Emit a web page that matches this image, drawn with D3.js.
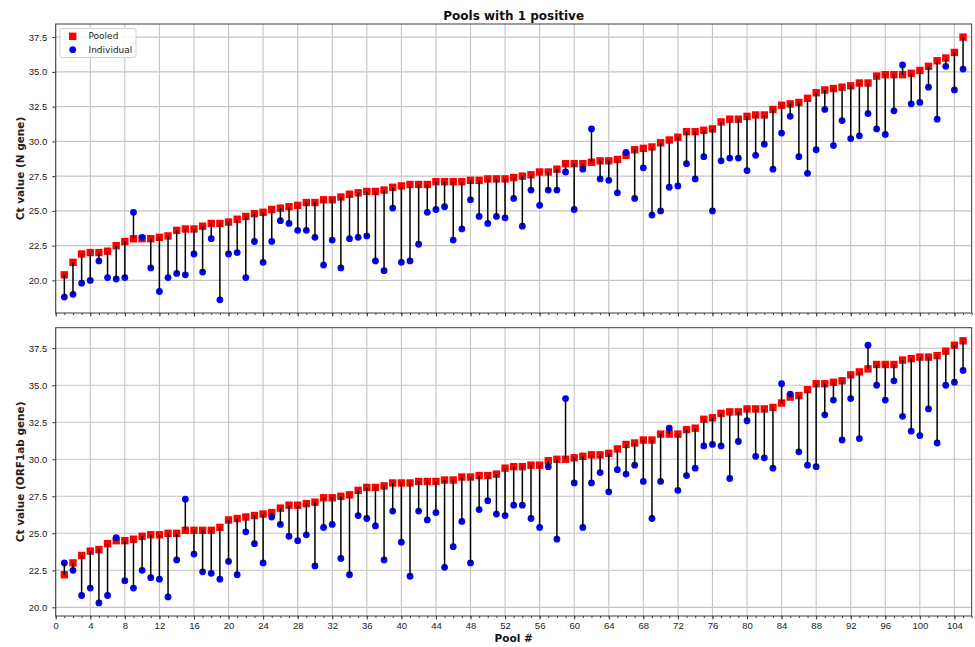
<!DOCTYPE html>
<html>
<head>
<meta charset="utf-8">
<script src="https://cdn.jsdelivr.net/npm/d3@7"></script>
<style>
  body { margin: 0; background: #fff; }
  svg { display: block; font-family: "DejaVu Sans", sans-serif; }
</style>
</head>
<body>
<svg id="chart" width="975" height="647"></svg>
<script>
// Pool numbers (x categories)
const pools = [
  1, 2, 3, 4, 5, 6, 7, 8, 9, 10, 11, 12, 13, 14, 15, 16, 17, 18, 19, 20, 21,
  22, 23, 24, 25, 26, 27, 28, 29, 30, 31, 32, 33, 34, 35, 36, 37, 38, 39, 40, 41, 42,
  43, 44, 45, 46, 47, 48, 49, 50, 51, 52, 53, 54, 55, 56, 57, 58, 59, 60, 61, 62, 63,
  64, 65, 66, 67, 68, 69, 70, 71, 72, 73, 74, 75, 76, 77, 78, 79, 80, 81, 82, 83, 84,
  85, 86, 87, 88, 89, 90, 91, 92, 93, 94, 95, 96, 97, 98, 99, 100, 101, 102, 103, 104, 105
];

// N gene: Ct of the pooled sample and of the positive individual sample
const nPooled = [
  20.4, 21.3, 21.9, 22.0, 22.0, 22.1, 22.5, 22.8, 23.0, 23.0, 23.0, 23.1, 23.2, 23.6, 23.7, 23.7, 23.9, 24.1, 24.1, 24.2, 24.4,
  24.6, 24.8, 24.9, 25.1, 25.2, 25.3, 25.4, 25.6, 25.6, 25.8, 25.8, 26.0, 26.2, 26.3, 26.4, 26.4, 26.5, 26.7, 26.8, 26.9, 26.9,
  26.9, 27.1, 27.1, 27.1, 27.1, 27.2, 27.2, 27.3, 27.3, 27.3, 27.4, 27.5, 27.6, 27.8, 27.8, 28.0, 28.4, 28.4, 28.4, 28.5, 28.6,
  28.6, 28.7, 29.0, 29.4, 29.5, 29.6, 29.9, 30.1, 30.3, 30.7, 30.7, 30.8, 30.9, 31.4, 31.6, 31.6, 31.8, 31.9, 31.9, 32.3, 32.6,
  32.7, 32.8, 33.1, 33.5, 33.7, 33.8, 33.9, 34.0, 34.2, 34.2, 34.7, 34.8, 34.8, 34.8, 34.9, 35.1, 35.4, 35.8, 36.0, 36.4, 37.5
];
const nIndividual = [
  18.8, 19.0, 19.8, 20.0, 21.4, 20.2, 20.1, 20.2, 24.9, 23.1, 20.9, 19.2, 20.2, 20.5, 20.4, 21.9, 20.6, 23.0, 18.6, 21.9, 22.0,
  20.2, 22.8, 21.3, 22.8, 24.3, 24.1, 23.6, 23.6, 23.1, 21.1, 22.9, 20.9, 23.0, 23.1, 23.2, 21.4, 20.7, 25.2, 21.3, 21.4, 22.6,
  24.9, 25.1, 25.3, 22.9, 23.7, 25.8, 24.6, 24.1, 24.6, 24.5, 25.9, 23.9, 26.5, 25.4, 26.5, 26.5, 27.8, 25.1, 28.0, 30.9, 27.3,
  27.2, 26.3, 29.2, 25.9, 28.1, 24.7, 25.0, 26.7, 26.8, 28.4, 27.3, 28.9, 25.0, 28.6, 28.8, 28.8, 27.9, 29.0, 29.8, 28.0, 30.6,
  31.8, 28.9, 27.7, 29.4, 32.3, 29.7, 31.5, 30.2, 30.4, 32.0, 30.9, 30.5, 32.2, 35.5, 32.7, 32.8, 33.9, 31.6, 35.4, 33.7, 35.2
];

// ORF1ab gene: Ct of the pooled sample and of the positive individual sample
const orfPooled = [
  22.2, 23.0, 23.5, 23.8, 23.9, 24.3, 24.5, 24.5, 24.6, 24.8, 24.9, 24.9, 25.0, 25.0, 25.2, 25.2, 25.2, 25.2, 25.4, 25.9, 26.0,
  26.1, 26.2, 26.3, 26.4, 26.7, 26.9, 26.9, 27.0, 27.1, 27.4, 27.4, 27.5, 27.6, 27.9, 28.1, 28.1, 28.2, 28.4, 28.4, 28.4, 28.5,
  28.5, 28.5, 28.6, 28.6, 28.8, 28.8, 28.9, 28.9, 29.0, 29.4, 29.5, 29.5, 29.6, 29.6, 29.9, 30.0, 30.0, 30.1, 30.2, 30.3, 30.3,
  30.4, 30.7, 31.0, 31.1, 31.3, 31.3, 31.7, 31.7, 31.7, 32.0, 32.1, 32.7, 32.8, 33.1, 33.2, 33.2, 33.4, 33.4, 33.4, 33.5, 33.8,
  34.2, 34.3, 34.7, 35.1, 35.1, 35.2, 35.3, 35.7, 35.9, 36.1, 36.4, 36.4, 36.4, 36.7, 36.8, 36.9, 36.9, 37.0, 37.3, 37.7, 38.0
];
const orfIndividual = [
  23.0, 22.5, 20.8, 21.3, 20.3, 20.8, 24.7, 21.8, 21.3, 22.5, 22.0, 21.9, 20.7, 23.2, 27.3, 23.6, 22.4, 22.3, 21.9, 23.1, 22.2,
  25.1, 24.3, 23.0, 26.1, 25.6, 24.8, 24.5, 24.9, 22.8, 25.4, 25.6, 23.3, 22.2, 26.2, 26.0, 25.5, 23.2, 26.5, 24.4, 22.1, 26.5,
  25.9, 26.4, 22.7, 24.1, 25.8, 23.0, 26.6, 27.2, 26.3, 26.2, 26.9, 26.9, 26.0, 25.4, 29.5, 24.6, 34.1, 28.4, 25.4, 28.4, 29.1,
  27.8, 29.3, 29.0, 29.6, 28.5, 26.0, 28.5, 32.1, 27.9, 28.9, 29.4, 30.9, 31.0, 30.9, 28.7, 31.2, 32.6, 30.2, 30.1, 29.4, 35.1,
  34.4, 30.5, 29.6, 29.5, 33.0, 34.0, 31.3, 34.1, 31.4, 37.7, 35.0, 34.0, 35.3, 32.9, 31.9, 31.6, 33.4, 31.1, 35.0, 35.2, 36.0
];

// Axis ticks and texts
const yTicks = [20, 22.5, 25, 27.5, 30, 32.5, 35, 37.5];
const xMajorTicks = [0, 4, 8, 12, 16, 20, 24, 28, 32, 36, 40, 44, 48, 52, 56, 60, 64, 68, 72, 76, 80, 84, 88, 92, 96, 100, 104];
const xMinorTicks = d3.range(0, 107, 1);
const xDomain = [0, 106];
const titleText = "Pools with 1 positive";
const xLabel = "Pool #";
const yLabels = ["Ct value (N gene)", "Ct value (ORF1ab gene)"];
const legendNames = ["Pooled", "Individual"];

const panelsData = [
  { label: yLabels[0], pooled: nPooled, individual: nIndividual },
  { label: yLabels[1], pooled: orfPooled, individual: orfIndividual }
];

// ---------------------------------------------------------------
const svg = d3.select("#chart");
const plotLeft = 55.7, plotRight = 971.7;
const boxes = [{ top: 24, bottom: 313 }, { top: 327.7, bottom: 616 }];
const COLORS = { pooled: "#ff0000", individual: "#0000ff", stem: "#000000", grid: "#c4c4c4", frame: "#3a3a3a", text: "#222" };

const x = d3.scaleLinear().domain(xDomain).range([plotLeft, plotRight]);

panelsData.forEach((pd, pi) => {
  const box = boxes[pi];
  const all = pd.pooled.concat(pd.individual);
  const lo = d3.min(all), hi = d3.max(all), pad = (hi - lo) * 0.05;
  const y = d3.scaleLinear().domain([lo - pad, hi + pad]).range([box.bottom, box.top]);

  const g = svg.append("g");

  // grid
  g.append("g").selectAll("line").data(xMajorTicks).join("line")
    .attr("x1", d => x(d)).attr("x2", d => x(d))
    .attr("y1", box.top).attr("y2", box.bottom)
    .attr("stroke", COLORS.grid).attr("stroke-width", 1.1);
  g.append("g").selectAll("line").data(yTicks).join("line")
    .attr("x1", plotLeft).attr("x2", plotRight)
    .attr("y1", d => y(d)).attr("y2", d => y(d))
    .attr("stroke", COLORS.grid).attr("stroke-width", 1.1);

  // markers
  const side = 7.4;
  g.append("g").selectAll("rect").data(pools).join("rect")
    .attr("x", (d, i) => x(d) - side / 2)
    .attr("y", (d, i) => y(pd.pooled[i]) - side / 2)
    .attr("width", side).attr("height", side)
    .attr("fill", COLORS.pooled);
  g.append("g").selectAll("circle").data(pools).join("circle")
    .attr("cx", d => x(d))
    .attr("cy", (d, i) => y(pd.individual[i]))
    .attr("r", 3.4)
    .attr("fill", COLORS.individual);

  // stems from pooled to individual value
  g.append("g").selectAll("line").data(pools).join("line")
    .attr("x1", d => x(d)).attr("x2", d => x(d))
    .attr("y1", (d, i) => y(pd.pooled[i]))
    .attr("y2", (d, i) => y(pd.individual[i]))
    .attr("stroke", COLORS.stem).attr("stroke-width", 1.5);

  // axes
  const xMinor = d3.axisBottom(x).tickValues(xMinorTicks).tickSize(2).tickFormat("");
  const xMajor = d3.axisBottom(x).tickValues(xMajorTicks).tickSize(3.5).tickPadding(2.5)
    .tickFormat(pi === 1 ? d3.format("d") : "");
  [xMinor, xMajor].forEach(ax => {
    const a = g.append("g").attr("transform", `translate(0,${box.bottom})`).call(ax);
    a.select(".domain").remove();
    a.selectAll("line").attr("stroke", COLORS.frame);
    a.selectAll("text").attr("fill", COLORS.text).style("font-size", "9.5px");
  });
  const yAx = g.append("g").attr("transform", `translate(${plotLeft},0)`)
    .call(d3.axisLeft(y).tickValues(yTicks).tickSize(3.5).tickPadding(5).tickFormat(d3.format(".1f")));
  yAx.select(".domain").remove();
  yAx.selectAll("line").attr("stroke", COLORS.frame);
  yAx.selectAll("text").attr("fill", COLORS.text).style("font-size", "9.5px");

  // frame
  g.append("rect")
    .attr("x", plotLeft).attr("y", box.top)
    .attr("width", plotRight - plotLeft).attr("height", box.bottom - box.top)
    .attr("fill", "none").attr("stroke", COLORS.frame).attr("stroke-width", 1);

  // y label
  g.append("text")
    .attr("transform", `translate(24,${(box.top + box.bottom) / 2}) rotate(-90)`)
    .attr("text-anchor", "middle")
    .attr("font-weight", "bold").style("font-size", "10.5px")
    .attr("fill", COLORS.text)
    .text(pd.label);

  // legend (top panel)
  if (pi === 0) {
    const lg = g.append("g");
    lg.append("rect").attr("x", 60).attr("y", 28.5).attr("width", 76).attr("height", 29)
      .attr("rx", 2).attr("fill", "#fff").attr("fill-opacity", 0.85)
      .attr("stroke", "#d0d0d0").attr("stroke-width", 1);
    lg.append("rect").attr("x", 72.7 - side / 2).attr("y", 36.3 - side / 2)
      .attr("width", side).attr("height", side).attr("fill", COLORS.pooled);
    lg.append("circle").attr("cx", 72.7).attr("cy", 49.7).attr("r", 3.4).attr("fill", COLORS.individual);
    lg.selectAll("text.lt").data(legendNames).join("text")
      .attr("class", "lt")
      .attr("x", 88.5).attr("y", (d, i) => 36.3 + i * 13.4)
      .attr("dy", "0.35em")
      .style("font-size", "9px").attr("fill", COLORS.text)
      .text(d => d);
  }
});

// title and x label
svg.append("text")
  .attr("x", (plotLeft + plotRight) / 2).attr("y", 19.5)
  .attr("text-anchor", "middle").attr("font-weight", "bold")
  .style("font-size", "12px").attr("fill", "#111")
  .text(titleText);
svg.append("text")
  .attr("x", (plotLeft + plotRight) / 2).attr("y", 641.5)
  .attr("text-anchor", "middle").attr("font-weight", "bold")
  .style("font-size", "10.5px").attr("fill", "#111")
  .text(xLabel);
</script>
</body>
</html>
